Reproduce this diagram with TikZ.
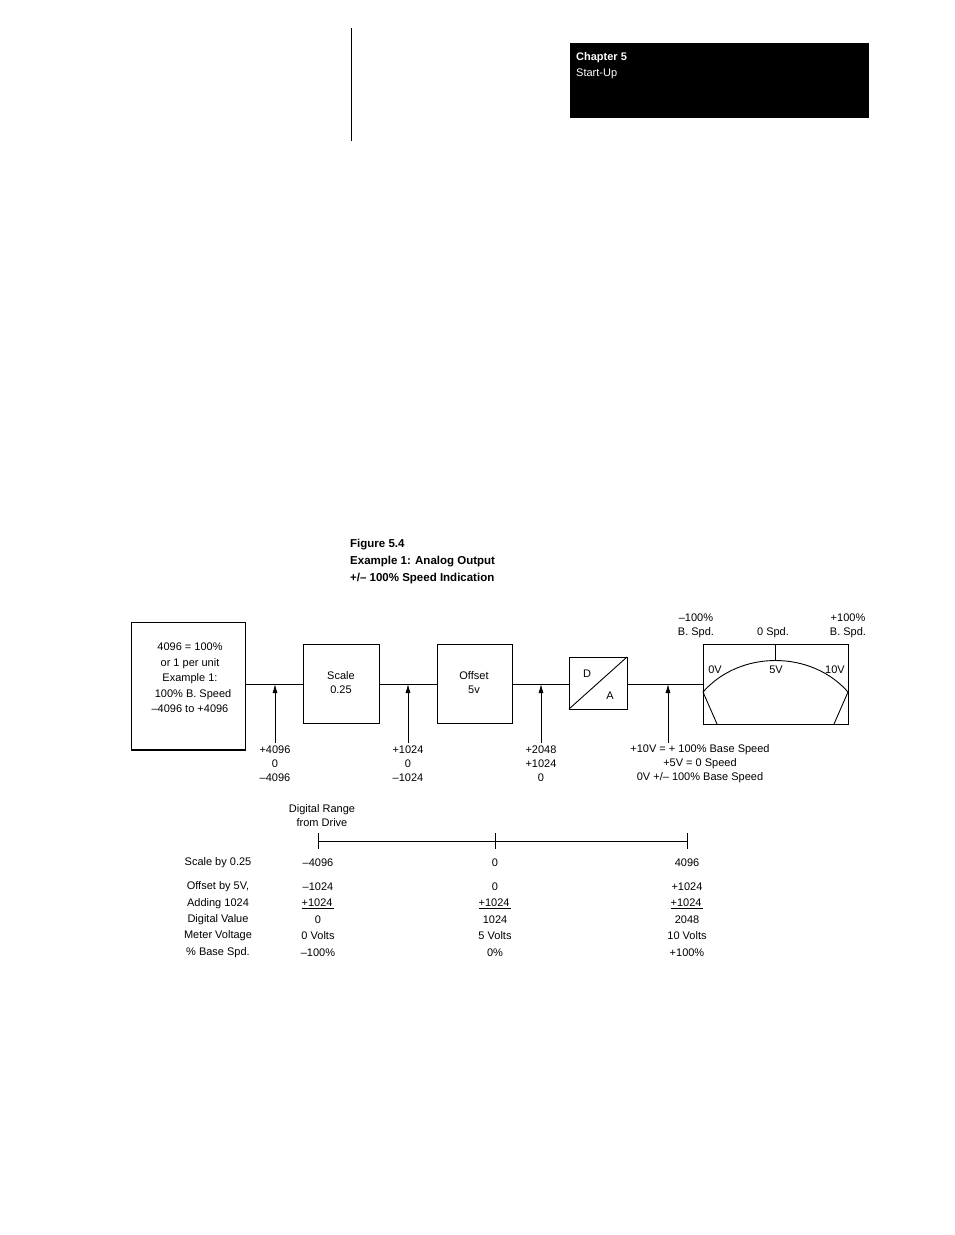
\documentclass[tikz,border=0pt]{standalone}
\usepackage{fontspec}
\setmainfont{Liberation Sans}
\usetikzlibrary{arrows.meta}
\begin{document}
\begin{tikzpicture}[x=1pt,y=-1pt,
  t/.style={font=\fontsize{11}{13}\selectfont,inner sep=0pt,align=center},
  blk/.style={draw,line width=0.9pt},
  arr/.style={-{Latex[length=9pt,width=5pt]},line width=0.8pt}]
\useasboundingbox (0,0) rectangle (954,1235);
\draw[line width=0.8pt] (351,28) -- (351,141);
\fill (570,43) rectangle (869,118);
\node[t,anchor=west,text=white,font=\bfseries\fontsize{11}{13}\selectfont] (ch) at (576,58) {Chapter 5};
\node[t,anchor=west,text=white] (su) at (576,74) {Start-Up};
\node[t,anchor=north west,align=left,font=\bfseries\fontsize{11.5}{17}\selectfont] (cap) at (350,539) {Figure 5.4\\Example 1: Analog Output\\+/-- 100\% Speed Indication};
% blocks
\draw[blk] (131,622) rectangle (245,750);
\draw[line width=1.8pt] (131,750) -- (245,750);
\node[t,font=\fontsize{11}{15.5}\selectfont] (b1) at (190,678) {4096 = 100\%\\or 1 per unit\\Example 1:\\\ \ 100\% B. Speed\\--4096 to +4096};
\draw[blk] (303,644) rectangle (379,723);
\node[t,font=\fontsize{11}{14}\selectfont] (sc) at (341,683) {Scale\\0.25};
\draw[blk] (437,644) rectangle (512,723);
\node[t,font=\fontsize{11}{14}\selectfont] (of) at (474,683) {Offset\\5v};
\draw[blk] (569,657) rectangle (627,709);
\draw[line width=0.9pt] (569,709) -- (627,657);
\node[t] (d) at (587,674) {D};
\node[t] (a) at (610,696) {A};
\draw[blk] (703,644) rectangle (848,724);
\draw[line width=0.9pt] (717,724) -- (703,692) .. controls (740,650) and (811,650) .. (848,692) -- (834,724);
\draw[line width=0.9pt] (775,644) -- (775,660);
\node[t] (v0) at (715,670) {0V};
\node[t] (v5) at (776,670) {5V};
\node[t] (v10) at (835,670) {10V};
\node[t,font=\fontsize{11}{14}\selectfont] (m1) at (696,626) {--100\%\\B. Spd.};
\node[t] (m2) at (773,633) {0 Spd.};
\node[t,font=\fontsize{11}{14}\selectfont] (m3) at (848,626) {+100\%\\B. Spd.};
% connecting line
\draw[line width=0.9pt] (245,684) -- (303,684) (379,684) -- (437,684) (512,684) -- (569,684) (627,684) -- (703,684);
\foreach \x in {275,408,541,668} \draw[arr] (\x,743) -- (\x,684);
\node[t,font=\fontsize{11}{14}\selectfont] at (275,764) {+4096\\0\\--4096};
\node[t,font=\fontsize{11}{14}\selectfont] at (408,764) {+1024\\0\\--1024};
\node[t,font=\fontsize{11}{14}\selectfont] at (541,764) {+2048\\+1024\\0};
\node[t,font=\fontsize{11}{14}\selectfont] at (700,764) {+10V = + 100\% Base Speed\\+5V = 0 Speed\\0V +/-- 100\% Base Speed};
% range
\node[t,font=\fontsize{11}{14}\selectfont] (dr) at (322,816) {Digital Range\\from Drive};
\draw[line width=0.9pt] (318,841) -- (687,841);
\foreach \x in {318,495,687} \draw[line width=0.9pt] (\x,833) -- (\x,849);
\foreach \y/\l in {863/Scale by 0.25,887/{Offset by 5V,},904/Adding 1024,920/Digital Value,936/Meter Voltage,953/\% Base Spd.}
  \node[t] at (218,\y) {\l};
\foreach \x/\a/\b/\c/\d/\e/\f in {318/--4096/--1024/+1024/0/0 Volts/--100\%,495/0/0/+1024/1024/5 Volts/0\%,687/4096/+1024/+1024/2048/10 Volts/+100\%}{
  \node[t] at (\x,863) {\a};
  \node[t] at (\x,887) {\b};
  \node[t] at (\x,904) {\underline{\c\,}};
  \node[t] at (\x,920) {\d};
  \node[t] at (\x,936) {\e};
  \node[t] at (\x,953) {\f};
}
\end{tikzpicture}
\end{document}
